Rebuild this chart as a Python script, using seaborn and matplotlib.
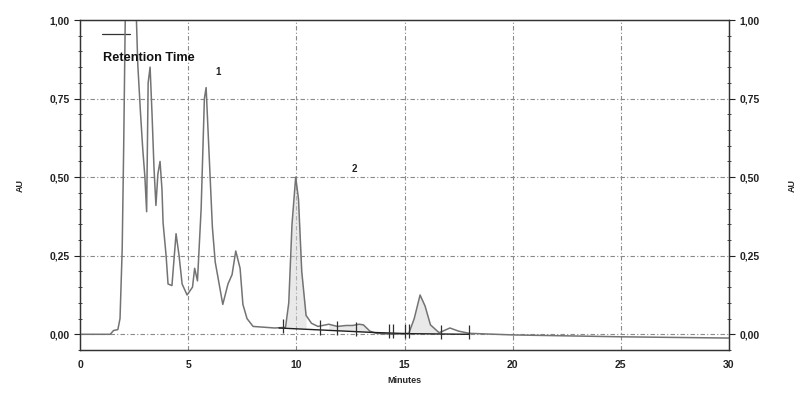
import numpy as np
import pandas as pd
import matplotlib
matplotlib.use("Agg")
import matplotlib.pyplot as plt
import seaborn as sns
from matplotlib.ticker import MultipleLocator, FuncFormatter

# ---- data ----
time_min = [0.0, 1.4, 1.55, 1.75, 1.85, 1.95, 2.02, 2.1, 2.3, 2.55, 2.6, 2.67, 2.8, 2.9, 3.0,
            3.08, 3.15, 3.24, 3.33, 3.42, 3.51, 3.6, 3.7, 3.79, 3.84, 3.98, 4.07, 4.25, 4.44,
            4.58, 4.72, 4.95, 5.2, 5.3, 5.43, 5.6, 5.75, 5.83, 5.95, 6.12, 6.25, 6.38, 6.6,
            6.84, 7.03, 7.2, 7.4, 7.53, 7.72, 8.0, 9.0, 9.5, 9.65, 9.8, 9.97, 10.1, 10.25,
            10.45, 10.7, 11.0, 11.5, 11.9, 12.3, 12.6, 12.9, 13.1, 13.4, 13.7, 14.5, 15.2,
            15.45, 15.72, 15.95, 16.2, 16.6, 17.1, 17.5, 18.0, 20.0, 25.0, 30.0]
absorbance = [0.0, 0.0, 0.012, 0.015, 0.05, 0.27, 0.6, 1.05, 1.2, 1.2, 1.02, 0.86, 0.70, 0.59, 0.50,
              0.39, 0.80, 0.85, 0.70, 0.53, 0.41, 0.51, 0.55, 0.46, 0.355, 0.25, 0.16, 0.155, 0.32,
              0.25, 0.16, 0.125, 0.15, 0.21, 0.17, 0.40, 0.75, 0.785, 0.60, 0.34, 0.23, 0.18, 0.095,
              0.16, 0.19, 0.265, 0.21, 0.095, 0.05, 0.025, 0.02, 0.022, 0.10, 0.35, 0.50, 0.43, 0.20,
              0.06, 0.035, 0.025, 0.032, 0.025, 0.028, 0.028, 0.032, 0.03, 0.01, 0.003, 0.0, 0.003,
              0.05, 0.125, 0.09, 0.03, 0.005, 0.02, 0.01, 0.003, -0.002, -0.008, -0.012]

base_time = [9.2, 13.5, 15.2, 18.0]
base_au = [0.02, 0.006, 0.002, 0.0]

event_times = [9.4, 11.1, 11.9, 12.75, 14.3, 14.45, 15.0, 15.2, 16.7, 18.0]
event_levels = [0.02, 0.014, 0.012, 0.009, 0.004, 0.004, 0.003, 0.002, 0.001, 0.0]

peak_labels = ["1", "2"]
peak_label_x = [6.4, 12.7]
peak_label_y = [0.82, 0.51]

x_ticks = [0, 5, 10, 15, 20, 25, 30]
y_ticks = [0.0, 0.25, 0.5, 0.75, 1.0]

df = pd.DataFrame({"Minutes": time_min, "AU": absorbance})
dfb = pd.DataFrame({"Minutes": base_time, "AU": base_au})

sns.set_style("white")
plt.rcParams["font.family"] = ["Liberation Sans", "DejaVu Sans"]

fig = plt.figure(figsize=(8.02, 3.94), dpi=100)
ax = fig.add_axes([80 / 802, 1 - 350 / 394, (729 - 80) / 802, (350 - 20) / 394])

grid_kw = dict(color="#8a8a8a", linestyle=(0, (4, 2, 1, 2)), linewidth=0.8, zorder=0)
for xv in x_ticks[1:-1]:
    ax.axvline(xv, **grid_kw)
for yv in y_ticks[:-1]:
    ax.axhline(yv, **grid_kw)

# light fills under integrated peaks
t = np.array(time_min); a = np.array(absorbance)
for lo, hi in [(9.5, 10.6), (11.1, 13.5), (15.2, 16.7)]:
    m = (t >= lo) & (t <= hi)
    bl = np.interp(t[m], base_time, base_au)
    ax.fill_between(t[m], bl, a[m], color="#d4d4d4", alpha=0.5, linewidth=0, zorder=1)

sns.lineplot(data=df, x="Minutes", y="AU", ax=ax, color="#737373", linewidth=1.1,
             estimator=None, sort=False, zorder=3, legend=False)
sns.lineplot(data=dfb, x="Minutes", y="AU", ax=ax, color="#202020", linewidth=1.0,
             estimator=None, sort=False, zorder=4, legend=False)
ax.vlines(event_times, np.array(event_levels) - 0.015, np.array(event_levels) + 0.03,
          color="#303030", linewidth=0.9, zorder=5)

for lab, lx, ly in zip(peak_labels, peak_label_x, peak_label_y):
    ax.text(lx, ly, lab, fontsize=7, fontweight="bold", ha="center", va="bottom", color="#222222")

ax.set_xlim(0, 30)
ax.set_ylim(-0.05, 1.0)
ax.set_xticks(x_ticks)
ax.set_yticks(y_ticks)
ax.xaxis.set_minor_locator(MultipleLocator(1))
ax.yaxis.set_minor_locator(MultipleLocator(0.05))
fmt = FuncFormatter(lambda v, p: f"{v:.2f}".replace(".", ","))
ax.yaxis.set_major_formatter(fmt)
ax.set_xlabel("Minutes", fontsize=6.5, fontweight="bold", labelpad=4)
ax.set_ylabel("AU", fontsize=6.5, fontweight="bold", labelpad=18)
ax.tick_params(axis="both", which="major", labelsize=7.5, length=4, width=0.8, direction="out",
               colors="#222222")
ax.tick_params(axis="both", which="minor", length=2.5, width=0.6, direction="inout")
for lbl in ax.get_xticklabels() + ax.get_yticklabels():
    lbl.set_fontweight("bold")
for s in ax.spines.values():
    s.set_color("#333333"); s.set_linewidth(0.9); s.set_visible(True)

ax2 = ax.twinx()
ax2.set_ylim(-0.05, 1.0)
ax2.set_yticks(y_ticks)
ax2.yaxis.set_minor_locator(MultipleLocator(0.05))
ax2.yaxis.set_major_formatter(fmt)
ax2.set_ylabel("AU", fontsize=6.5, fontweight="bold", labelpad=20)
ax2.tick_params(axis="y", which="major", labelsize=7.5, length=4, width=0.8, direction="out",
                colors="#222222")
ax2.tick_params(axis="y", which="minor", length=2.5, width=0.6, direction="inout")
for lbl in ax2.get_yticklabels():
    lbl.set_fontweight("bold")
for s in ax2.spines.values():
    s.set_color("#333333"); s.set_linewidth(0.9)

# legend: short line sample above the text
ax.plot([1.0, 2.3], [0.955, 0.955], color="#333333", linewidth=0.9)
ax.text(1.05, 0.88, "Retention Time", fontsize=9.2, fontweight="bold", ha="left", va="center",
        color="#111111")

fig.savefig("out.png", dpi=100)
